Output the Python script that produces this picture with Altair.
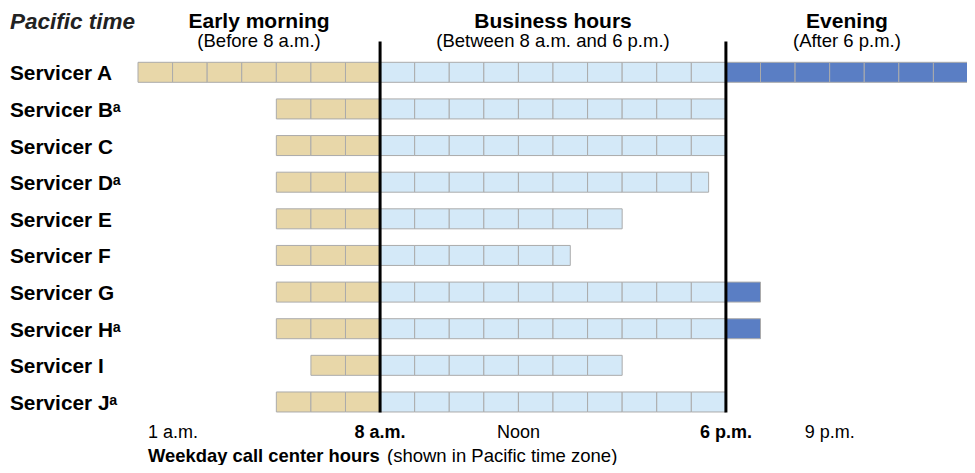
import altair as alt
import pandas as pd

# ---- data ----
servicers = ["A", "B", "C", "D", "E", "F", "G", "H", "I", "J"]
footnote = [False, True, False, True, False, False, False, True, False, True]
open_hour = [1, 5, 5, 5, 5, 5, 5, 5, 6, 5]        # hour of day (Pacific)
close_hour = [25, 18, 18, 17.5, 15, 13.5, 19, 19, 15, 18]  # 25 = 1 a.m. next day

business_start = 8
business_end = 18

period_names = ["Early morning", "Business hours", "Evening"]
period_notes = ["(Before 8 a.m.)", "(Between 8 a.m. and 6 p.m.)", "(After 6 p.m.)"]
period_colors = ["#E8D7A9", "#D4E9F8", "#5A7EC4"]

tick_hours = [1, 8, 12, 18, 21]
tick_text = ["1 a.m.", "8 a.m.", "Noon", "6 p.m.", "9 p.m."]
tick_bold = [False, True, False, True, False]

# ---- build hourly cells from the open/close hours ----
rows = []
for i, (s, o, c) in enumerate(zip(servicers, open_hour, close_hour)):
    h = o
    while h < c:
        end = min(h + 1, c)
        if h < business_start:
            p = period_names[0]
        elif h < business_end:
            p = period_names[1]
        else:
            p = period_names[2]
        rows.append({"servicer": s, "row": i, "start": h, "end": end, "period": p})
        h += 1
cells = pd.DataFrame(rows)

labels = pd.DataFrame({
    "row": list(range(len(servicers))),
    "label": [f"Servicer {s}" + ("\u1d43" if f else "") for s, f in zip(servicers, footnote)],
})

headers = pd.DataFrame({
    "x": [(open_hour[0] + business_start) / 2, (business_start + business_end) / 2,
          (business_end + close_hour[0]) / 2],
    "name": period_names,
    "note": period_notes,
})

ticks = pd.DataFrame({"x": tick_hours, "text": tick_text, "bold": tick_bold})
bounds = pd.DataFrame({"x": [business_start, business_end]})

W, H = 959, 457
px_per_hour = 34.583
x0 = 1 - 130 / px_per_hour
xscale = alt.Scale(domain=[x0, x0 + W / px_per_hour], nice=False, zero=False, padding=0)
row_px = 36.63
yscale = alt.Scale(domain=[-64.3 / row_px, (H - 64.3) / row_px], nice=False, zero=False,
                   reverse=True, padding=0)

FONT = "Liberation Sans"

bars = alt.Chart(cells).mark_bar(size=20, stroke="#ABABAB", strokeWidth=1).encode(
    x=alt.X("start:Q", scale=xscale, axis=None),
    x2="end:Q",
    y=alt.Y("row:Q", scale=yscale, axis=None),
    color=alt.Color("period:N", scale=alt.Scale(domain=period_names, range=period_colors), legend=None),
)

rules = alt.Chart(bounds).mark_rule(color="black", strokeWidth=3).encode(
    x=alt.X("x:Q", scale=xscale),
    y=alt.value(33.5),
    y2=alt.value(404.5),
)

row_text = alt.Chart(labels).mark_text(
    align="left", baseline="alphabetic", dy=8, font=FONT, fontSize=20.8, fontWeight="bold", color="black"
).encode(
    x=alt.value(2),
    y=alt.Y("row:Q", scale=yscale),
    text="label:N",
)

pacific = alt.Chart(pd.DataFrame({"t": ["Pacific time"]})).mark_text(
    align="left", baseline="alphabetic", font=FONT, fontSize=22.5, fontWeight="bold", fontStyle="italic",
    color="#222222"
).encode(x=alt.value(2), y=alt.value(20.5), text="t:N")

head_text = alt.Chart(headers).mark_text(
    align="center", baseline="alphabetic", font=FONT, fontSize=21, fontWeight="bold", color="black"
).encode(x=alt.X("x:Q", scale=xscale), y=alt.value(19.5), text="name:N")

note_text = alt.Chart(headers).mark_text(
    align="center", baseline="alphabetic", font=FONT, fontSize=18.5, color="black"
).encode(x=alt.X("x:Q", scale=xscale), y=alt.value(38.5), text="note:N")

TICK_Y = 429.5
tick_first = alt.Chart(ticks.iloc[:1]).mark_text(
    align="left", baseline="alphabetic", dx=10, font=FONT, fontSize=18, color="black"
).encode(x=alt.X("x:Q", scale=xscale), y=alt.value(TICK_Y), text="text:N")

tick_plain = alt.Chart(ticks.iloc[1:]).transform_filter("!datum.bold").mark_text(
    align="center", baseline="alphabetic", font=FONT, fontSize=18, color="black"
).encode(x=alt.X("x:Q", scale=xscale), y=alt.value(TICK_Y), text="text:N")

tick_strong = alt.Chart(ticks.iloc[1:]).transform_filter("datum.bold").mark_text(
    align="center", baseline="alphabetic", font=FONT, fontSize=18, fontWeight="bold", color="black"
).encode(x=alt.X("x:Q", scale=xscale), y=alt.value(TICK_Y), text="text:N")

TITLE_Y = 454
title_bold = alt.Chart(pd.DataFrame({"t": ["Weekday call center hours"]})).mark_text(
    align="left", baseline="alphabetic", font=FONT, fontSize=18.4, fontWeight="bold", color="black"
).encode(x=alt.value(140), y=alt.value(TITLE_Y), text="t:N")

title_rest = alt.Chart(pd.DataFrame({"t": ["(shown in Pacific time zone)"]})).mark_text(
    align="left", baseline="alphabetic", font=FONT, fontSize=18.5, color="black"
).encode(x=alt.value(379), y=alt.value(TITLE_Y), text="t:N")

chart = alt.layer(
    bars, rules, row_text, pacific, head_text, note_text, tick_first, tick_plain, tick_strong,
    title_bold, title_rest
).properties(
    width=W, height=H, padding=0, autosize=alt.AutoSizeParams(type="none")
).configure_view(stroke=None)

chart.save("out.html", embed_options={"renderer": "svg", "actions": False})
